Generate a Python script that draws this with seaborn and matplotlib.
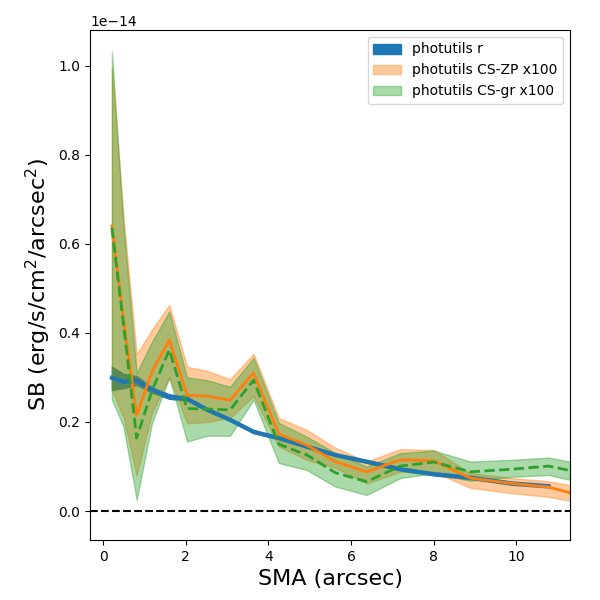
import numpy as np
import seaborn as sns
import matplotlib
matplotlib.use("Agg")
import matplotlib.pyplot as plt

# surface brightness profiles, in units of 1e-14 erg/s/cm^2/arcsec^2
sma = [0.21, 0.49, 0.81, 1.18, 1.60, 2.03, 2.51, 3.07, 3.64, 4.25,
       4.93, 5.62, 6.38, 7.19, 8.00, 8.89, 9.90, 10.78, 11.30]

# photutils r (ends at 10.78)
sma_r = sma[:-1]
r_mid = [0.299, 0.290, 0.293, 0.272, 0.257, 0.252, 0.228, 0.205, 0.178, 0.164,
         0.145, 0.126, 0.111, 0.094, 0.083, 0.075, 0.062, 0.056]
r_lo = [0.272, 0.276, 0.283, 0.266, 0.252, 0.248, 0.225, 0.202, 0.175, 0.161,
        0.142, 0.123, 0.108, 0.091, 0.080, 0.072, 0.059, 0.053]
r_hi = [0.324, 0.308, 0.303, 0.278, 0.262, 0.256, 0.231, 0.208, 0.181, 0.167,
        0.148, 0.129, 0.114, 0.097, 0.086, 0.078, 0.065, 0.059]

# photutils CS-ZP x100
zp_mid = [0.640, 0.430, 0.215, 0.313, 0.384, 0.260, 0.258, 0.249, 0.310, 0.173,
          0.148, 0.111, 0.088, 0.115, 0.113, 0.074, 0.062, 0.054, 0.041]
zp_lo = [0.272, 0.210, 0.080, 0.220, 0.300, 0.197, 0.200, 0.209, 0.258, 0.145,
         0.115, 0.097, 0.062, 0.088, 0.088, 0.052, 0.040, 0.032, 0.023]
zp_hi = [0.995, 0.660, 0.352, 0.407, 0.463, 0.324, 0.315, 0.296, 0.353, 0.209,
         0.182, 0.142, 0.111, 0.139, 0.137, 0.085, 0.074, 0.067, 0.058]

# photutils CS-gr x100
gr_mid = [0.636, 0.420, 0.164, 0.270, 0.362, 0.230, 0.229, 0.227, 0.294, 0.150,
          0.126, 0.086, 0.066, 0.101, 0.110, 0.088, 0.094, 0.101, 0.091]
gr_lo = [0.250, 0.190, 0.025, 0.197, 0.300, 0.156, 0.169, 0.169, 0.250, 0.108,
         0.092, 0.055, 0.036, 0.074, 0.085, 0.068, 0.077, 0.081, 0.070]
gr_hi = [1.030, 0.640, 0.310, 0.380, 0.448, 0.300, 0.294, 0.279, 0.344, 0.198,
         0.167, 0.130, 0.100, 0.130, 0.136, 0.111, 0.115, 0.120, 0.111]

scale = 1e-14
s = lambda v: np.array(v) * scale

fig, ax = plt.subplots(figsize=(6, 6), dpi=100)

ax.fill_between(sma_r, s(r_lo), s(r_hi), color="C0", label="photutils r")
ax.fill_between(sma, s(zp_lo), s(zp_hi), color="C1", alpha=0.4, label="photutils CS-ZP x100")
ax.fill_between(sma, s(gr_lo), s(gr_hi), color="C2", alpha=0.4, label="photutils CS-gr x100")

sns.lineplot(x=sma_r, y=s(r_mid), color="C0", lw=3, ax=ax, legend=False)
sns.lineplot(x=sma, y=s(zp_mid), color="C1", lw=2, ax=ax, legend=False)
sns.lineplot(x=sma, y=s(gr_mid), color="C2", lw=2, ls="--", ax=ax, legend=False)

ax.axhline(0, color="k", ls="--")

ax.set_xlim(-0.32, 11.3)
ax.set_ylim(-0.065e-14, 1.08e-14)
ax.set_xlabel("SMA (arcsec)", fontsize=16)
ax.set_ylabel("SB (erg/s/cm$^2$/arcsec$^2$)", fontsize=16)
ax.legend(loc="upper right")

plt.subplots_adjust(left=0.15, right=0.95, bottom=0.1, top=0.95)
plt.savefig("out.png", dpi=100)
